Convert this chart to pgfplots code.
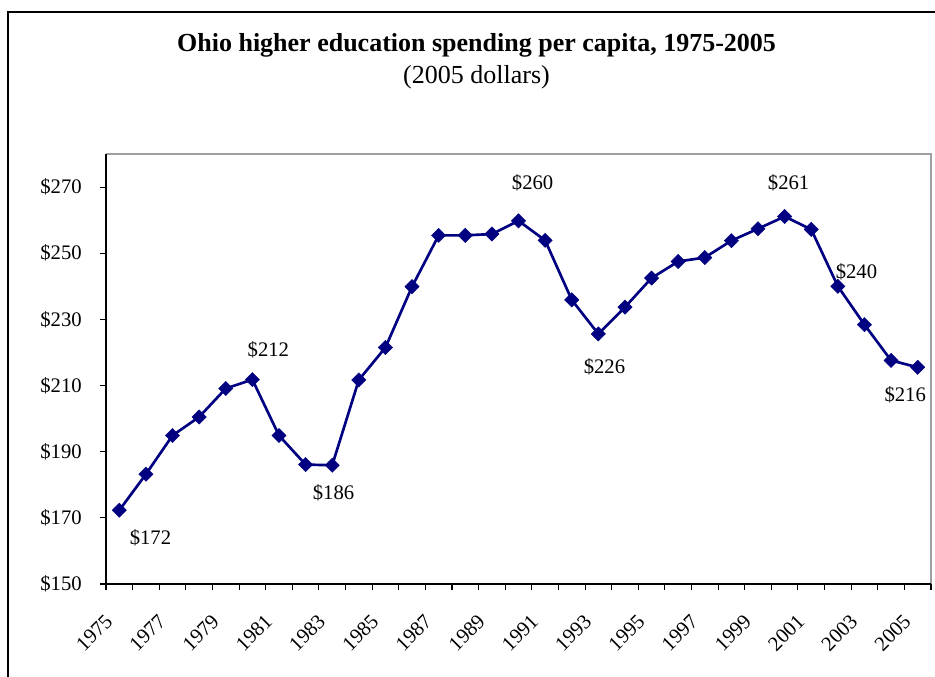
\documentclass[border=0pt]{standalone}
\usepackage{pgfplots}
\pgfplotsset{compat=1.18}
\usepackage{fontspec}
\setmainfont{Liberation Serif}
\definecolor{navyline}{RGB}{0,0,128}
\pgfplotstableread{
x year val
0 1975 172.3
1 1976 183.2
2 1977 194.9
3 1978 200.5
4 1979 209.1
5 1980 211.8
6 1981 194.9
7 1982 186.1
8 1983 185.9
9 1984 211.7
10 1985 221.5
11 1986 239.9
12 1987 255.4
13 1988 255.4
14 1989 255.8
15 1990 259.8
16 1991 253.9
17 1992 235.9
18 1993 225.6
19 1994 233.7
20 1995 242.5
21 1996 247.5
22 1997 248.7
23 1998 253.8
24 1999 257.4
25 2000 261.1
26 2001 257.2
27 2002 240.0
28 2003 228.4
29 2004 217.6
30 2005 215.5
}\datatable
\begin{document}
\begin{tikzpicture}
\useasboundingbox (0,0) rectangle (701.25pt,507pt);
\draw[line width=1.1pt] (6pt,-2pt) -- (6pt,498pt) -- (703pt,498pt);
\node[anchor=base, font=\fontsize{19.5}{23}\selectfont\bfseries] at (357.4pt,468pt) {Ohio higher education spending per capita, 1975-2005};
\node[anchor=base, font=\fontsize{19.5}{23}\selectfont] at (357.4pt,444pt) {(2005 dollars)};
\begin{axis}[
  at={(79.5pt,69pt)}, anchor=south west,
  scale only axis, width=618.75pt, height=322.5pt,
  xmin=-0.5, xmax=30.5, ymin=150, ymax=280,
  clip=false,
  axis line style={draw=none},
  ytick={150,170,...,270},
  yticklabel={\$\pgfmathprintnumber{\tick}},
  /pgf/number format/assume math mode=true,
  xtick={0,2,...,30},
  xticklabels={1975,1977,1979,1981,1983,1985,1987,1989,1991,1993,1995,1997,1999,2001,2003,2005},
  minor xtick={-0.5,0.5,...,30.5},
  tick align=outside,
  xtick pos=bottom, ytick pos=left,
  major tick length=4.5pt, minor tick length=4.5pt,
  xtick style={draw=none},
  minor x tick style={draw=black, line width=0.8pt},
  ytick style={draw=black, line width=0.8pt},
  tick label style={font=\fontsize{15.5}{18}\selectfont},
  xticklabel style={font=\fontsize{15.5}{18}\selectfont, xshift=-7.7pt, yshift=-21pt, rotate=45, anchor=east, inner sep=0pt},
  yticklabel style={anchor=east, inner sep=0pt, xshift=-13.5pt},
]
\addplot[navyline, line width=2pt, mark=square*, mark size=3.8pt, mark options={rotate=45, line width=0.3pt, solid}] table[x=x, y=val] {\datatable};
\draw[gray!75, line width=1.6pt] (rel axis cs:0,1) -- (rel axis cs:1,1) -- (rel axis cs:1,0);
\draw[black, line width=1.1pt] (rel axis cs:0,1) -- (rel axis cs:0,0) -- (rel axis cs:1,0);
\begin{scope}[every node/.style={font=\fontsize{15.5}{18}\selectfont, inner sep=0pt}]
\node at (axis cs:1.17,163.9) {\$172};
\node at (axis cs:5.6,220.8) {\$212};
\node at (axis cs:8.05,177.6) {\$186};
\node at (axis cs:15.53,271.2) {\$260};
\node at (axis cs:25.15,271.4) {\$261};
\node at (axis cs:18.23,215.7) {\$226};
\node at (axis cs:27.7,244.4) {\$240};
\node at (axis cs:29.53,207.1) {\$216};
\end{scope}
\end{axis}
\end{tikzpicture}
\end{document}
